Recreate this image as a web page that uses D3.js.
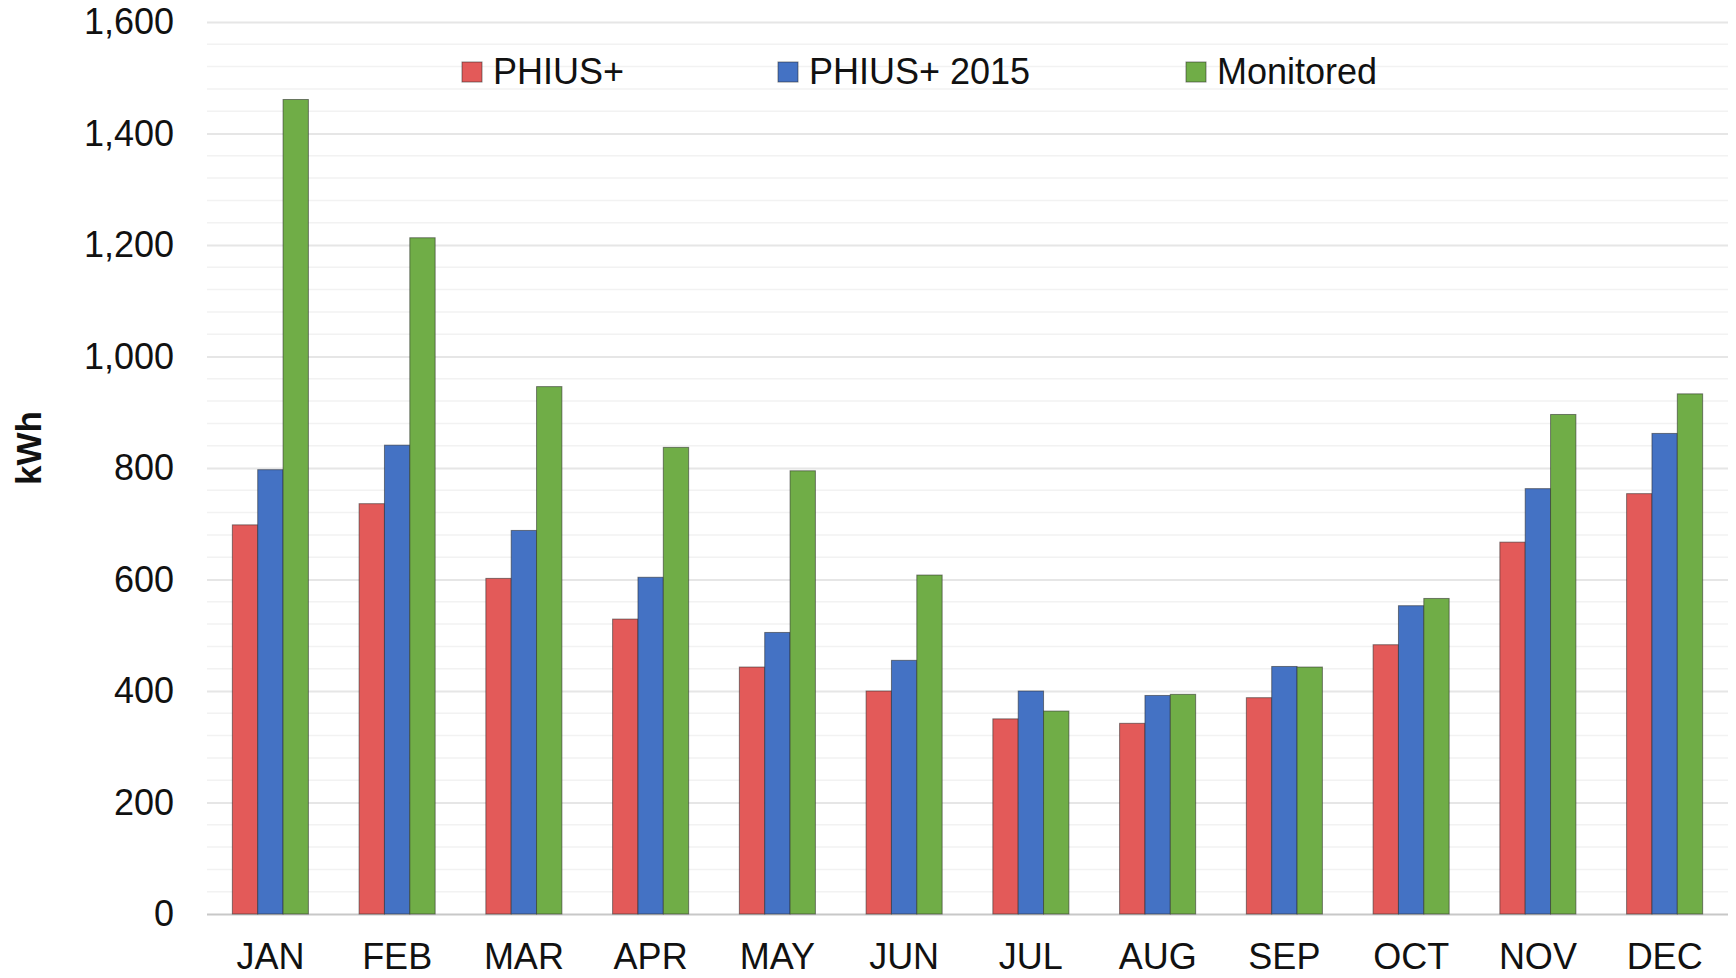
<!DOCTYPE html>
<html><head><meta charset="utf-8">
<script src="https://cdn.jsdelivr.net/npm/d3@7"></script>
<style>html,body{margin:0;padding:0;background:#fff;} svg{display:block;}</style>
</head><body>
<script>
const months = ["JAN","FEB","MAR","APR","MAY","JUN","JUL","AUG","SEP","OCT","NOV","DEC"];
const seriesNames = ["PHIUS+","PHIUS+ 2015","Monitored"];
const phiusPlus     = [698, 736, 602, 529, 443, 400, 350, 342, 388, 483, 667, 754];
const phiusPlus2015 = [797, 841, 688, 604, 505, 455, 400, 392, 444, 553, 763, 862];
const monitored     = [1461, 1213, 946, 837, 795, 608, 364, 394, 443, 566, 896, 933];
const yTicks = [0, 200, 400, 600, 800, 1000, 1200, 1400, 1600];
const colors = ["#E35A59", "#4472C4", "#70AD47"];

const W = 1736, H = 978;
const mLeft = 207, mRight = 1728, mTop = 22, mBottom = 914;

const svg = d3.select("body").append("svg").attr("width", W).attr("height", H)
  .style("font-family", "'Liberation Sans', Arial, sans-serif");

const x = d3.scaleBand().domain(months).range([mLeft, mRight]).paddingInner(0.4).paddingOuter(0.2);
const y = d3.scaleLinear().domain([0, 1600]).range([mBottom, mTop]);
const xs = d3.scaleBand().domain(seriesNames).range([0, x.bandwidth()]);

// minor gridlines
const minor = d3.range(40, 1600, 40).filter(v => v % 200 !== 0);
svg.append("g").selectAll("line").data(minor).join("line")
  .attr("x1", mLeft).attr("x2", mRight)
  .attr("y1", d => y(d)).attr("y2", d => y(d))
  .attr("stroke", "#f2f2f2").attr("stroke-width", 1.5);

// major gridlines via axis
const yAxis = svg.append("g").attr("transform", `translate(${mLeft},0)`)
  .call(d3.axisLeft(y).tickValues(yTicks).tickSize(-(mRight - mLeft)).tickFormat(d3.format(",")).tickPadding(33));
yAxis.select(".domain").remove();
yAxis.selectAll(".tick line").attr("stroke", d => d === 0 ? "#c8c8c8" : "#e6e6e6").attr("stroke-width", 2);
yAxis.selectAll(".tick text").attr("font-size", 36).attr("fill", "#111").attr("font-family", "'Liberation Sans', Arial, sans-serif");

// bars
const data = months.map((m, i) => ({ m, vals: [phiusPlus[i], phiusPlus2015[i], monitored[i]] }));
const g = svg.append("g").selectAll("g").data(data).join("g")
  .attr("transform", d => `translate(${x(d.m)},0)`);
g.selectAll("rect").data(d => d.vals.map((v, k) => ({ v, k }))).join("rect")
  .attr("x", d => xs(seriesNames[d.k]))
  .attr("width", xs.bandwidth())
  .attr("y", d => y(d.v))
  .attr("height", d => y(0) - y(d.v))
  .attr("fill", d => colors[d.k])
  .attr("stroke", "rgba(40,40,40,0.55)").attr("stroke-width", 1);

// x axis labels
const xAxis = svg.append("g").attr("transform", `translate(0,${mBottom})`)
  .call(d3.axisBottom(x).tickSize(0).tickPadding(29));
xAxis.select(".domain").remove();
xAxis.selectAll(".tick text").attr("font-size", 36).attr("fill", "#111").attr("font-family", "'Liberation Sans', Arial, sans-serif");

// y title
svg.append("text").attr("transform", "translate(41,448) rotate(-90)")
  .attr("text-anchor", "middle").attr("font-size", 35).attr("font-weight", "bold").attr("fill", "#111")
  .text("kWh");

// legend
const legendX = [462, 778, 1186];
const lg = svg.append("g").selectAll("g").data(seriesNames).join("g")
  .attr("transform", (d, i) => `translate(${legendX[i]},62)`);
lg.append("rect").attr("width", 20).attr("height", 20)
  .attr("fill", (d, i) => colors[i]).attr("stroke", "rgba(40,40,40,0.55)").attr("stroke-width", 1);
lg.append("text").attr("x", 31).attr("y", 22).attr("font-size", 36).attr("fill", "#111").text(d => d);
</script>
</body></html>
